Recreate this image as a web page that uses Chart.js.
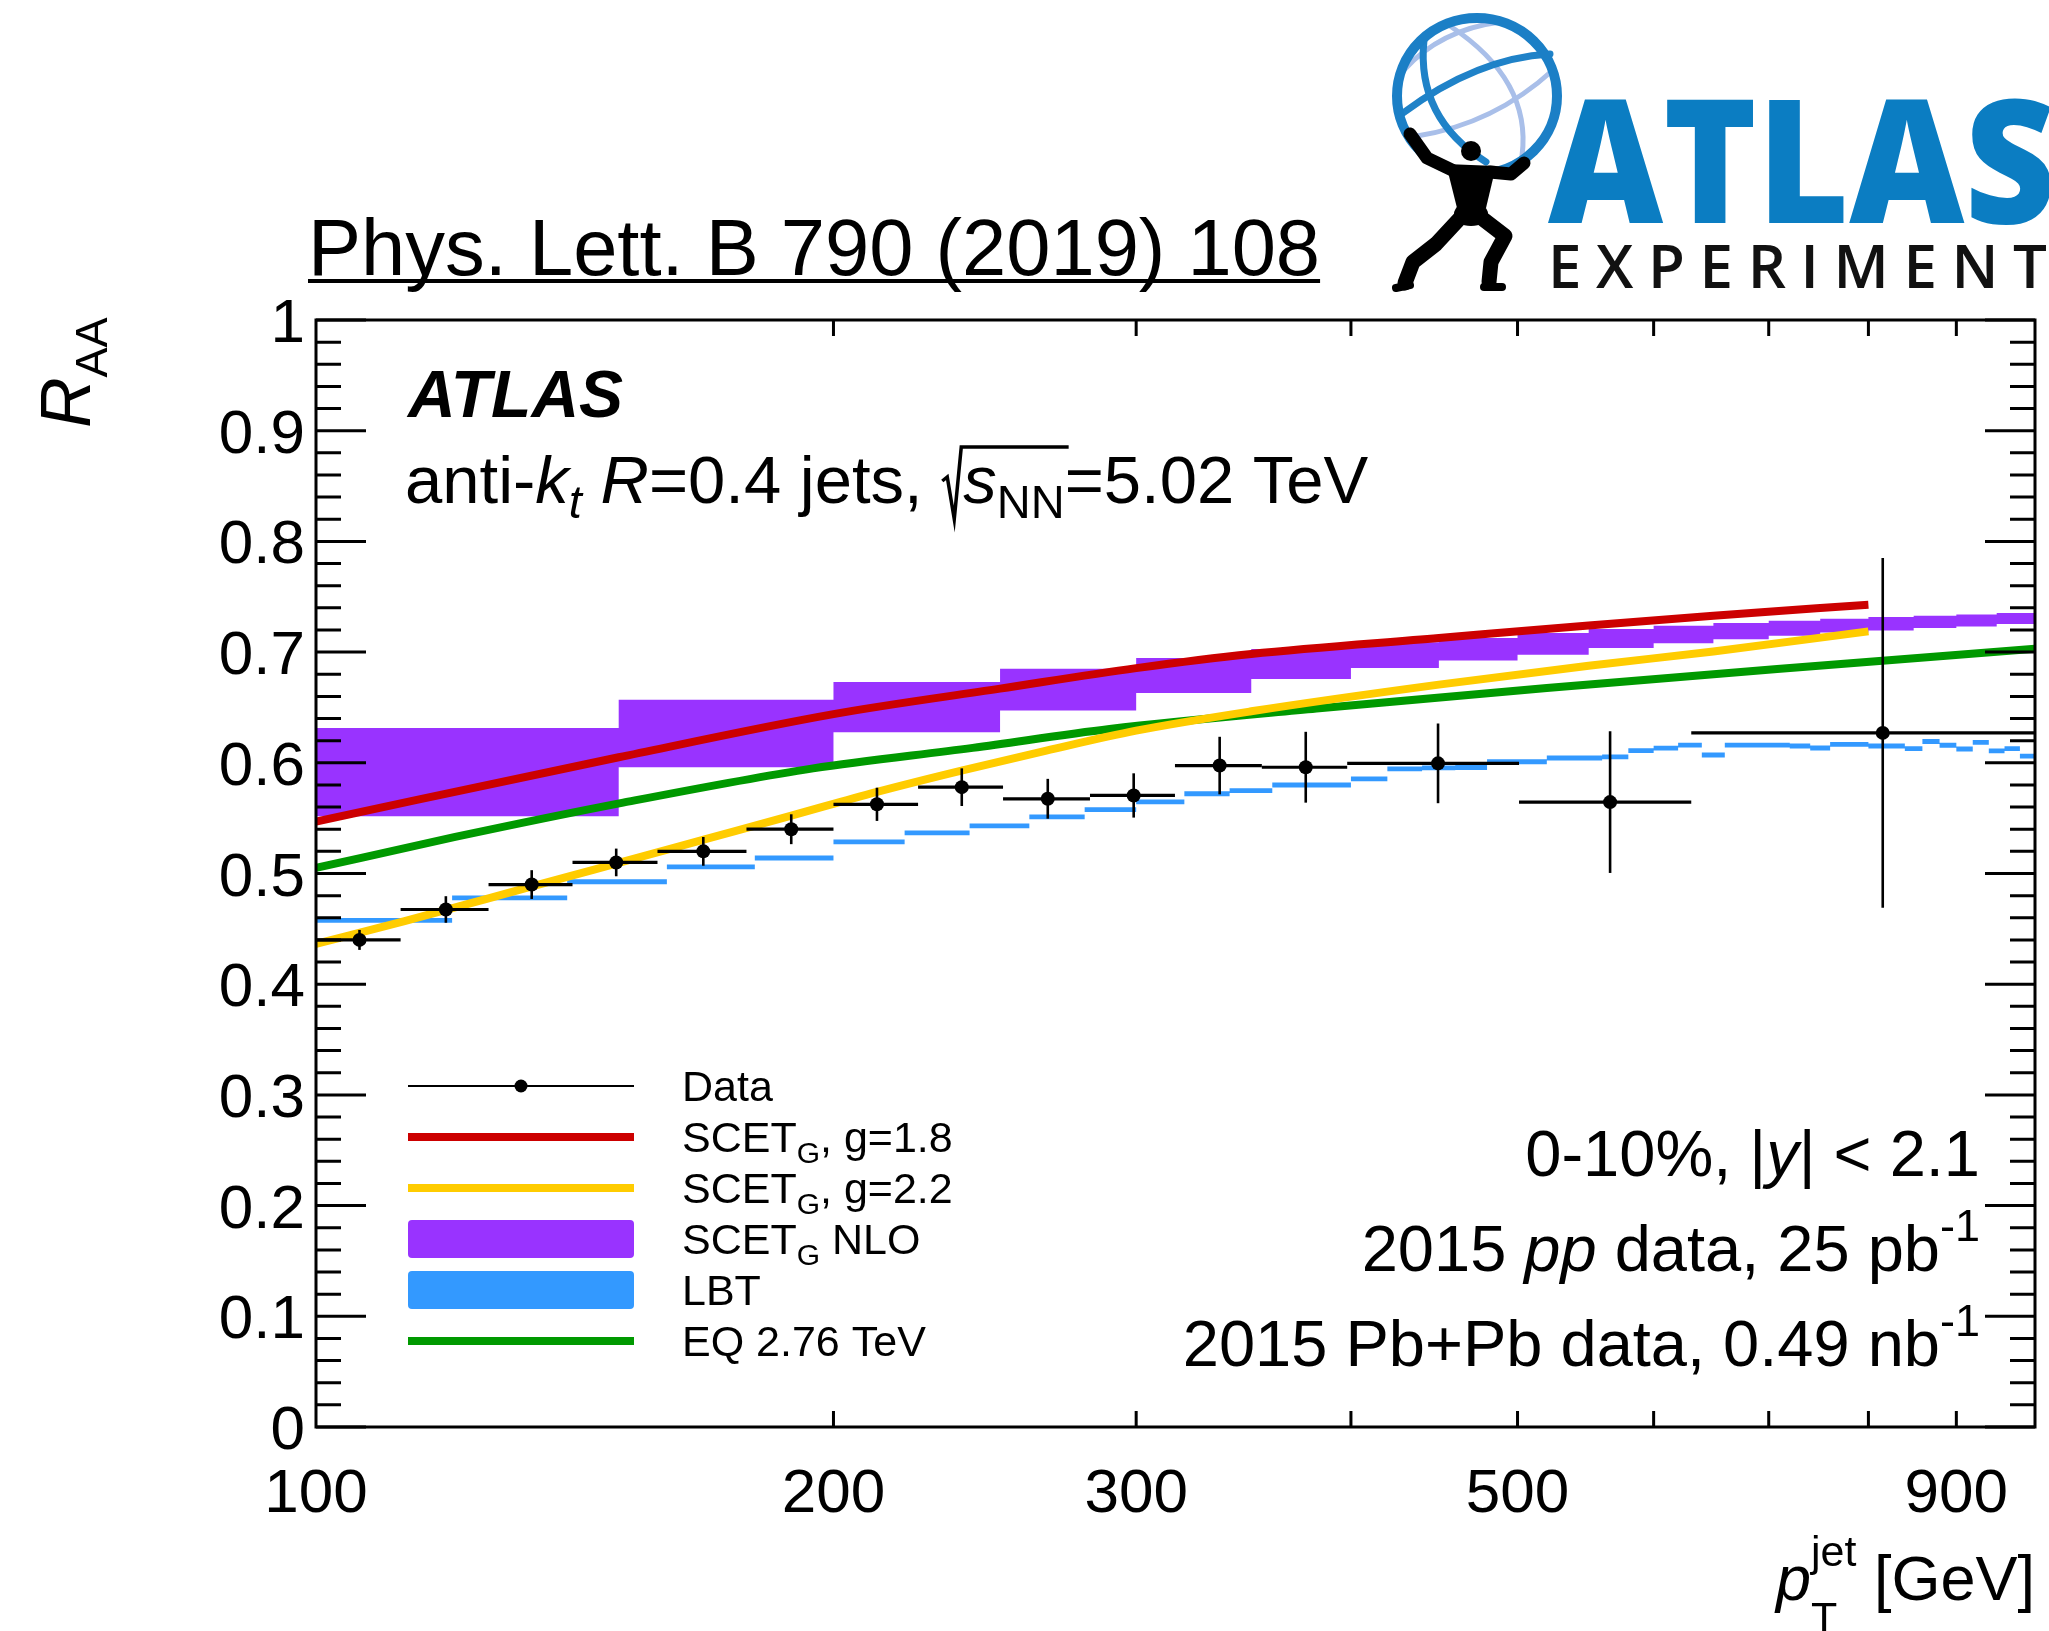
<!DOCTYPE html>
<html>
<head>
<meta charset="utf-8">
<title>Jet R_AA versus jet pT</title>
<script src="https://cdn.jsdelivr.net/npm/chart.js@4.4.1/dist/chart.umd.min.js"></script>
<style>
html, body { margin: 0; padding: 0; background: #ffffff; }
canvas { display: block; }
</style>
</head>
<body>
<canvas id="raa" width="2049" height="1631"></canvas>
<script>
// ---------- measured R_AA, 0-10% centrality ----------
const dataBinEdges = [100, 112, 126, 141, 158, 178, 200, 224, 251, 282, 316, 355, 398, 501, 631, 1000];
const dataRAA = [0.440, 0.4675, 0.490, 0.510, 0.520, 0.540, 0.5625, 0.578, 0.5675, 0.5705, 0.5975, 0.596, 0.5995, 0.5645, 0.627];
const dataErr = [0.009, 0.012, 0.013, 0.0125, 0.013, 0.0135, 0.015, 0.017, 0.018, 0.020, 0.026, 0.032, 0.036, 0.064, 0.158];

// ---------- SCET_G NLO band (histogram) ----------
const nloBinEdges = [100, 150, 200, 250, 300, 350, 400, 450, 500, 550, 600, 650, 700, 750, 800, 850, 900, 950, 1000];
const nloUpper = [0.6315, 0.657, 0.673, 0.685, 0.6946, 0.7027, 0.7088, 0.7127, 0.7172, 0.7208, 0.7238, 0.7262, 0.7283, 0.7301, 0.7316, 0.7328, 0.734, 0.7353];
const nloLower = [0.5517, 0.596, 0.6276, 0.6472, 0.6631, 0.6757, 0.6857, 0.6925, 0.6977, 0.7037, 0.7081, 0.7117, 0.7148, 0.7178, 0.7196, 0.7217, 0.7232, 0.7254];

// ---------- LBT (histogram with narrow band) ----------
const lbtBinEdges = [100, 120, 140, 160, 180, 200, 220, 240, 260, 280, 300, 320, 340, 360, 380, 400, 420, 440, 460, 480, 500,
  520, 540, 560, 580, 600, 620, 640, 660, 680, 700, 720, 740, 760, 780, 800, 820, 840, 860, 880, 900, 920, 940, 960, 980, 1000];
const lbtRAA = [0.4576, 0.478, 0.4925, 0.506, 0.514, 0.5286, 0.5367, 0.543, 0.5512, 0.5577, 0.5647, 0.572, 0.5749, 0.580, 0.580,
  0.5855, 0.5945, 0.5954, 0.5958, 0.601, 0.601, 0.6043, 0.6043, 0.6053, 0.611, 0.6132, 0.616, 0.607, 0.616, 0.616, 0.616,
  0.6152, 0.6134, 0.6167, 0.6167, 0.6152, 0.6152, 0.6128, 0.6192, 0.6158, 0.6125, 0.6185, 0.6108, 0.6128, 0.606];
const lbtUnc = 0.0022;

// ---------- SCET_G, g = 1.8 ----------
const scetG18Pt = [100, 150, 200, 250, 300, 350, 450, 550, 650, 800];
const scetG18RAA = [0.547, 0.605, 0.644, 0.667, 0.6855, 0.6983, 0.7127, 0.7241, 0.7329, 0.7428];

// ---------- SCET_G, g = 2.2 ----------
const scetG22Pt = [100, 112.6, 126, 140, 150, 168.5, 188.8, 211.7, 237.4, 266, 300, 350, 450, 550, 650, 800];
const scetG22RAA = [0.4365, 0.457, 0.4775, 0.497, 0.5095, 0.531, 0.552, 0.5735, 0.593, 0.611, 0.629, 0.6465, 0.6706, 0.6877, 0.7006, 0.7187];

// ---------- EQ 2.76 TeV ----------
const eqPt = [100, 120.5, 150.9, 194.6, 241, 289.5, 381.9, 520, 708, 1000];
const eqRAA = [0.505, 0.533, 0.564, 0.595, 0.6135, 0.6305, 0.649, 0.6676, 0.6847, 0.703];

// ---------- axes ----------
const yLabelValues = [0, 0.1, 0.2, 0.3, 0.4, 0.5, 0.6, 0.7, 0.8, 0.9, 1];
const yLabelTexts = ['0', '0.1', '0.2', '0.3', '0.4', '0.5', '0.6', '0.7', '0.8', '0.9', '1'];
const xTickValues = [200, 300, 400, 500, 600, 700, 800, 900];
const xLabelValues = [100, 200, 300, 500, 900];
const xLabelTexts = ['100', '200', '300', '500', '900'];

// ---------- styles ----------
const PURPLE = '#9933ff', BLUE = '#3399ff', RED = '#cc0000', YELLOW = '#ffcc00', GREEN = '#009900';
const SANS = '"Liberation Sans", Arial, Helvetica, sans-serif';
const fnt = (size, style) => (style ? style + ' ' : '') + size + 'px ' + SANS;

function histPoints(edges, vals, shift) {
  const pts = [];
  for (let i = 0; i < vals.length; i++) {
    pts.push({ x: edges[i], y: vals[i] + shift });
    pts.push({ x: edges[i + 1], y: vals[i] + shift });
  }
  return pts;
}
function curvePoints(xs, ys) { return xs.map((x, i) => ({ x: x, y: ys[i] })); }

// ---------- rich text helpers ----------
function runsWidth(ctx, runs) {
  let w = 0;
  for (const r of runs) {
    if (r.text !== undefined) { ctx.font = r.font; r.w = ctx.measureText(r.text).width; }
    else r.w = r.w || 0;
    w += (r.adv !== undefined ? r.adv : r.w);
  }
  return w;
}
function drawRuns(ctx, runs, x, y, align) {
  const total = runsWidth(ctx, runs);
  let cx = align === 'right' ? x - total : (align === 'center' ? x - total / 2 : x);
  ctx.textAlign = 'left';
  ctx.textBaseline = 'alphabetic';
  for (const r of runs) {
    if (r.text !== undefined) { ctx.font = r.font; ctx.fillText(r.text, cx, y + (r.dy || 0)); }
    if (r.draw) r.draw(ctx, cx, y);
    cx += (r.adv !== undefined ? r.adv : r.w);
  }
  return total;
}

// ---------- ATLAS logo ----------
function drawAtlasLogo(ctx) {
  ctx.save();
  const cx = 1477, cy = 96, rx = 80, ry = 78;
  ctx.lineCap = 'round';
  // light grid lines
  ctx.strokeStyle = '#a9bfe9';
  ctx.lineWidth = 5;
  ctx.beginPath(); ctx.moveTo(1450, 26); ctx.quadraticCurveTo(1532, 80, 1522, 156); ctx.stroke();
  ctx.beginPath(); ctx.moveTo(1417, 136); ctx.quadraticCurveTo(1494, 124, 1553, 70); ctx.stroke();
  ctx.beginPath(); ctx.moveTo(1404, 70); ctx.quadraticCurveTo(1440, 30, 1500, 22); ctx.stroke();
  // dark grid lines
  ctx.strokeStyle = '#1f82c8';
  ctx.lineWidth = 7;
  ctx.beginPath(); ctx.moveTo(1424, 40); ctx.quadraticCurveTo(1416, 118, 1486, 162); ctx.stroke();
  ctx.beginPath(); ctx.moveTo(1403, 113); ctx.quadraticCurveTo(1477, 58, 1550, 54); ctx.stroke();
  // outer ring
  ctx.strokeStyle = '#1b7fc6';
  ctx.lineWidth = 10;
  ctx.beginPath(); ctx.ellipse(cx, cy, rx, ry, 0, 0, Math.PI * 2); ctx.stroke();

  // figure carrying the globe
  ctx.fillStyle = '#000';
  ctx.strokeStyle = '#000';
  ctx.lineJoin = 'round';
  ctx.beginPath(); ctx.arc(1471, 151, 10, 0, Math.PI * 2); ctx.fill();
  ctx.beginPath();
  ctx.moveTo(1446, 164); ctx.lineTo(1496, 166); ctx.lineTo(1486, 208); ctx.lineTo(1457, 208); ctx.closePath(); ctx.fill();
  ctx.beginPath(); ctx.ellipse(1471, 214, 17, 12, 0, 0, Math.PI * 2); ctx.fill();
  ctx.lineWidth = 13;
  ctx.beginPath(); ctx.moveTo(1452, 170); ctx.lineTo(1427, 158); ctx.lineTo(1410, 134); ctx.stroke();
  ctx.beginPath(); ctx.moveTo(1490, 172); ctx.lineTo(1511, 174); ctx.lineTo(1524, 163); ctx.stroke();
  ctx.lineWidth = 15;
  ctx.beginPath(); ctx.moveTo(1462, 216); ctx.lineTo(1436, 244); ctx.lineTo(1413, 262); ctx.lineTo(1405, 283); ctx.stroke();
  ctx.beginPath(); ctx.moveTo(1479, 216); ctx.lineTo(1505, 236); ctx.lineTo(1491, 262); ctx.lineTo(1489, 282); ctx.stroke();
  ctx.lineWidth = 8;
  ctx.beginPath(); ctx.moveTo(1396, 288); ctx.lineTo(1410, 285); ctx.stroke();
  ctx.beginPath(); ctx.moveTo(1484, 287); ctx.lineTo(1502, 287); ctx.stroke();

  // wordmark
  ctx.fillStyle = '#0b7dc2';
  ctx.font = '800 172px "Open Sans", "Liberation Sans", sans-serif';
  ctx.textBaseline = 'alphabetic';
  ctx.textAlign = 'left';
  const aw = ctx.measureText('ATLAS').width;
  ctx.save();
  ctx.translate(1548, 223);
  ctx.scale(508 / aw, 1);
  ctx.fillText('ATLAS', 0, 0);
  ctx.restore();

  ctx.fillStyle = '#111';
  ctx.font = '600 60px "Open Sans", "Liberation Sans", sans-serif';
  const word = 'EXPERIMENT';
  let sum = 0;
  const ws = [];
  for (const ch of word) { const w = ctx.measureText(ch).width; ws.push(w); sum += w; }
  const gap = (2047 - 1548 - sum) / (word.length - 1);
  let px = 1548;
  for (let i = 0; i < word.length; i++) { ctx.fillText(word[i], px, 288); px += ws[i] + gap; }
  ctx.restore();
}

// ---------- decorations drawn with the chart scales ----------
const decorPlugin = {
  id: 'raaDecor',
  afterDatasetsDraw(chart) {
    const ctx = chart.ctx, xs = chart.scales.x, ys = chart.scales.y;
    ctx.save();
    ctx.strokeStyle = '#000';
    for (let i = 0; i < dataRAA.length; i++) {
      const lo = dataBinEdges[i], hi = dataBinEdges[i + 1];
      const xc = xs.getPixelForValue((lo + hi) / 2);
      const yc = ys.getPixelForValue(dataRAA[i]);
      ctx.lineWidth = 3.2;
      ctx.beginPath();
      ctx.moveTo(xs.getPixelForValue(lo), yc);
      ctx.lineTo(xs.getPixelForValue(hi), yc);
      ctx.stroke();
      ctx.lineWidth = 2.6;
      ctx.beginPath();
      ctx.moveTo(xc, ys.getPixelForValue(dataRAA[i] + dataErr[i]));
      ctx.lineTo(xc, ys.getPixelForValue(dataRAA[i] - dataErr[i]));
      ctx.stroke();
    }
    ctx.restore();
  },
  afterDraw(chart) {
    const ctx = chart.ctx, xs = chart.scales.x, ys = chart.scales.y, a = chart.chartArea;
    ctx.save();
    ctx.fillStyle = '#000';
    ctx.strokeStyle = '#000';

    // frame
    ctx.lineWidth = 3;
    ctx.strokeRect(a.left, a.top, a.right - a.left, a.bottom - a.top);

    // y ticks (inward, both sides)
    ctx.lineWidth = 3;
    for (let k = 0; k <= 50; k++) {
      const v = k / 50;
      const y = ys.getPixelForValue(v);
      const len = (k % 5 === 0) ? 50 : 25;
      ctx.beginPath();
      ctx.moveTo(a.left, y); ctx.lineTo(a.left + len, y);
      ctx.moveTo(a.right, y); ctx.lineTo(a.right - len, y);
      ctx.stroke();
    }
    // x ticks (inward, bottom and top)
    for (const v of xTickValues) {
      const x = xs.getPixelForValue(v);
      ctx.beginPath();
      ctx.moveTo(x, a.bottom); ctx.lineTo(x, a.bottom - 16);
      ctx.moveTo(x, a.top); ctx.lineTo(x, a.top + 16);
      ctx.stroke();
    }

    // tick labels
    ctx.font = fnt(62);
    ctx.textBaseline = 'alphabetic';
    ctx.textAlign = 'right';
    yLabelValues.forEach((v, i) => ctx.fillText(yLabelTexts[i], a.left - 11, ys.getPixelForValue(v) + 22));
    ctx.textAlign = 'center';
    xLabelValues.forEach((v, i) => ctx.fillText(xLabelTexts[i], xs.getPixelForValue(v), 1512));

    // axis titles
    drawRuns(ctx, [
      { text: 'p', font: fnt(63, 'italic') },
      { text: 'T', font: fnt(43), dy: 32, adv: 0 },
      { text: 'jet', font: fnt(43), dy: -34 },
      { text: ' [GeV]', font: fnt(63) }
    ], a.right, 1600, 'right');

    ctx.save();
    ctx.translate(90, 428);
    ctx.rotate(-Math.PI / 2);
    drawRuns(ctx, [
      { text: 'R', font: fnt(70, 'italic') },
      { text: 'AA', font: fnt(45), dy: 17 }
    ], 0, 0, 'left');
    ctx.restore();

    // ATLAS label and jet definition
    ctx.font = fnt(66, 'italic bold');
    ctx.textAlign = 'left';
    ctx.fillText('ATLAS', 408, 417);

    const radicand = [
      { text: 's', font: fnt(67, 'italic') },
      { text: 'NN', font: fnt(47), dy: 15 }
    ];
    const radW = runsWidth(ctx, radicand);
    const radical = {
      w: 22,
      draw(c, x, y) {
        c.save();
        c.lineWidth = 3.5;
        c.lineJoin = 'miter';
        c.beginPath();
        c.moveTo(x + 1, y - 22);
        c.lineTo(x + 6, y - 26);
        c.lineTo(x + 13, y + 16);
        c.lineTo(x + 20, y - 56);
        c.lineTo(x + 22 + radW + 4, y - 56);
        c.stroke();
        c.restore();
      }
    };
    drawRuns(ctx, [
      { text: 'anti-', font: fnt(67) },
      { text: 'k', font: fnt(67, 'italic') },
      { text: 't', font: fnt(47, 'italic'), dy: 15 },
      { text: ' ', font: fnt(67) },
      { text: 'R', font: fnt(67, 'italic') },
      { text: '=0.4 jets, ', font: fnt(67) },
      radical,
      ...radicand,
      { text: '=5.02 TeV', font: fnt(67) }
    ], 405, 503, 'left');

    // selection and luminosity
    const R = 1980;
    drawRuns(ctx, [
      { text: '0-10%, |', font: fnt(65) },
      { text: 'y', font: fnt(65, 'italic') },
      { text: '| < 2.1', font: fnt(65) }
    ], R, 1176, 'right');
    drawRuns(ctx, [
      { text: '2015 ', font: fnt(65) },
      { text: 'pp', font: fnt(65, 'italic') },
      { text: ' data, 25 pb', font: fnt(65) },
      { text: '-1', font: fnt(45), dy: -30 }
    ], R, 1271, 'right');
    drawRuns(ctx, [
      { text: '2015 Pb+Pb data, 0.49 nb', font: fnt(65) },
      { text: '-1', font: fnt(45), dy: -30 }
    ], R, 1366, 'right');

    // legend
    const lx0 = 408, lx1 = 634, tx = 682;
    const rowY = (i) => 1086 + i * 51;
    const lf = fnt(43), ls = fnt(30);
    const legend = [
      { kind: 'data', runs: [{ text: 'Data', font: lf }] },
      { kind: 'line', color: RED, runs: [{ text: 'SCET', font: lf }, { text: 'G', font: ls, dy: 11 }, { text: ', g=1.8', font: lf }] },
      { kind: 'line', color: YELLOW, runs: [{ text: 'SCET', font: lf }, { text: 'G', font: ls, dy: 11 }, { text: ', g=2.2', font: lf }] },
      { kind: 'box', color: PURPLE, runs: [{ text: 'SCET', font: lf }, { text: 'G', font: ls, dy: 11 }, { text: ' NLO', font: lf }] },
      { kind: 'box', color: BLUE, runs: [{ text: 'LBT', font: lf }] },
      { kind: 'line', color: GREEN, runs: [{ text: 'EQ 2.76 TeV', font: lf }] }
    ];
    legend.forEach((e, i) => {
      const y = rowY(i);
      if (e.kind === 'data') {
        ctx.lineWidth = 2;
        ctx.strokeStyle = '#000';
        ctx.beginPath(); ctx.moveTo(lx0, y); ctx.lineTo(lx1, y); ctx.stroke();
        ctx.beginPath(); ctx.arc((lx0 + lx1) / 2, y, 6.5, 0, Math.PI * 2); ctx.fill();
      } else if (e.kind === 'line') {
        ctx.fillStyle = e.color;
        ctx.fillRect(lx0, y - 4, lx1 - lx0, 8);
      } else {
        ctx.fillStyle = e.color;
        ctx.beginPath();
        if (ctx.roundRect) ctx.roundRect(lx0, y - 19, lx1 - lx0, 38, 4); else ctx.rect(lx0, y - 19, lx1 - lx0, 38);
        ctx.fill();
      }
      ctx.fillStyle = '#000';
      drawRuns(ctx, e.runs, tx, y + 15, 'left');
    });

    // journal reference
    ctx.font = fnt(79.5);
    ctx.textAlign = 'left';
    const tw = ctx.measureText('Phys. Lett. B 790 (2019) 108').width;
    ctx.fillText('Phys. Lett. B 790 (2019) 108', 308, 275);
    ctx.fillRect(308, 279, tw, 4);

    drawAtlasLogo(ctx);
    ctx.restore();
  }
};

const lineBase = { pointRadius: 0, borderWidth: 8, fill: false, clip: 0, borderCapStyle: 'butt', cubicInterpolationMode: 'monotone' };
const bandBase = { pointRadius: 0, borderWidth: 0, borderColor: 'rgba(0,0,0,0)', tension: 0, clip: 0 };

new Chart(document.getElementById('raa').getContext('2d'), {
  type: 'line',
  data: {
    datasets: [
      Object.assign({ label: 'SCET_G NLO', data: histPoints(nloBinEdges, nloUpper, 0), fill: '+1', backgroundColor: PURPLE, order: 10 }, bandBase),
      Object.assign({ label: 'SCET_G NLO (lower)', data: histPoints(nloBinEdges, nloLower, 0), fill: false, order: 10 }, bandBase),
      Object.assign({ label: 'LBT', data: histPoints(lbtBinEdges, lbtRAA, lbtUnc), fill: '+1', backgroundColor: BLUE, order: 9 }, bandBase),
      Object.assign({ label: 'LBT (lower)', data: histPoints(lbtBinEdges, lbtRAA, -lbtUnc), fill: false, order: 9 }, bandBase),
      Object.assign({ label: 'EQ 2.76 TeV', data: curvePoints(eqPt, eqRAA), borderColor: GREEN, order: 8 }, lineBase),
      Object.assign({ label: 'SCET_G, g=2.2', data: curvePoints(scetG22Pt, scetG22RAA), borderColor: YELLOW, order: 7 }, lineBase),
      Object.assign({ label: 'SCET_G, g=1.8', data: curvePoints(scetG18Pt, scetG18RAA), borderColor: RED, order: 6 }, lineBase),
      {
        label: 'Data',
        data: dataRAA.map((v, i) => ({ x: (dataBinEdges[i] + dataBinEdges[i + 1]) / 2, y: v })),
        showLine: false, pointRadius: 7, pointHoverRadius: 7, pointBackgroundColor: '#000',
        pointBorderWidth: 0, borderColor: '#000', order: 1
      }
    ]
  },
  options: {
    responsive: false,
    maintainAspectRatio: false,
    animation: false,
    devicePixelRatio: 1,
    events: [],
    layout: { padding: { left: 316, top: 320, right: 14, bottom: 204 } },
    scales: {
      x: { type: 'logarithmic', min: 100, max: 1000, display: false },
      y: { type: 'linear', min: 0, max: 1, display: false }
    },
    plugins: { legend: { display: false }, tooltip: { enabled: false } }
  },
  plugins: [decorPlugin]
});
</script>
</body>
</html>
